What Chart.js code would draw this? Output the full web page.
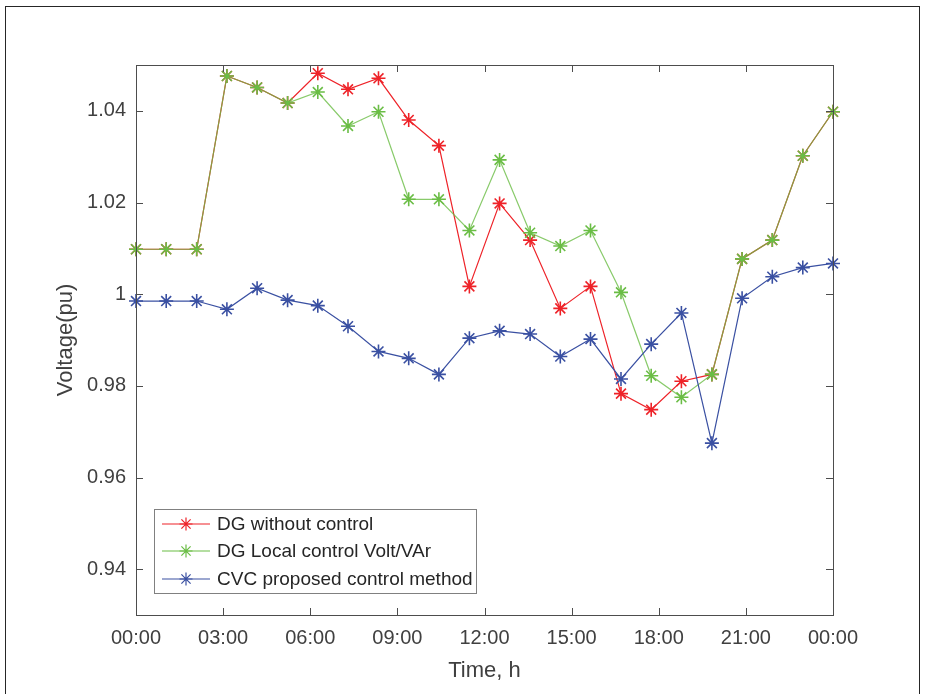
<!DOCTYPE html>
<html>
<head>
<meta charset="utf-8">
<script src="https://cdn.jsdelivr.net/npm/chart.js@4/dist/chart.umd.min.js"></script>
<style>
    body { margin: 0; background: #fff; }
    .frame { position: absolute; left: 5px; top: 6px; width: 913px; height: 700px; border: 1px solid #262626; border-bottom: none; }
    canvas { position: absolute; left: 0; top: 0; }
</style>
</head>
<body>
<div class="frame"></div>
<canvas id="myChart" width="925" height="694"></canvas>
<script>
"use strict";
// time of each sample (h)
let hours = [0, 1.04, 2.09, 3.13, 4.17, 5.22, 6.26, 7.30, 8.35, 9.39, 10.43, 11.48,
    12.52, 13.57, 14.61, 15.65, 16.70, 17.74, 18.78, 19.83, 20.87, 21.91, 22.96, 24];

let noControl = [1.0098, 1.0098, 1.0098, 1.0476, 1.0451, 1.0417, 1.0482, 1.0447, 1.0471, 1.0380, 1.0324, 1.0017,
    1.0198, 1.0118, 0.9969, 1.0017, 0.9783, 0.9748, 0.9810, 0.9825, 1.0077, 1.0118, 1.0302, 1.0398];
let localControl = [1.0098, 1.0098, 1.0098, 1.0476, 1.0451, 1.0417, 1.0441, 1.0367, 1.0398, 1.0207, 1.0207, 1.0139,
    1.0293, 1.0134, 1.0105, 1.0139, 1.0004, 0.9822, 0.9775, 0.9825, 1.0077, 1.0118, 1.0302, 1.0398];
let cvcControl = [0.9985, 0.9985, 0.9985, 0.9967, 1.0013, 0.9987, 0.9975, 0.9930, 0.9875, 0.9860, 0.9825, 0.9904,
    0.9920, 0.9913, 0.9864, 0.9902, 0.9815, 0.9891, 0.9959, 0.9675, 0.9991, 1.0038, 1.0058, 1.0067];

let xTicks = [0, 3, 6, 9, 12, 15, 18, 21, 24];
let xLabels = ["00:00", "03:00", "06:00", "09:00", "12:00", "15:00", "18:00", "21:00", "00:00"];
let yTicks = [0.94, 0.96, 0.98, 1, 1.02, 1.04];
let yLabels = ["0.94", "0.96", "0.98", "1", "1.02", "1.04"];

let names = ["DG without control", "DG Local control Volt/VAr", "CVC proposed control method"];
let colors = ["#ee2228", "#6abd45", "#3a50a2"];
let lineColors = ["#ee2228", "rgba(106,189,69,0.8)", "#3a50a2"];

const FONT = "'Liberation Sans', Arial, Helvetica, sans-serif";

function pts(vals) {
    return vals.map((v, i) => ({ x: hours[i], y: v }));
}

// box + inward ticks like matlab, legend drawn here too
const boxPlugin = {
    id: "box",
    afterDraw(chart) {
        const ctx = chart.ctx;
        const a = chart.chartArea;
        const sx = chart.scales.x, sy = chart.scales.y;
        ctx.save();
        ctx.strokeStyle = "#4d4d4d";
        ctx.lineWidth = 1;
        ctx.strokeRect(a.left + 0.5, a.top + 0.5, a.right - a.left, a.bottom - a.top);
        ctx.beginPath();
        xTicks.forEach(t => {
            let px = Math.round(sx.getPixelForValue(t)) + 0.5;
            ctx.moveTo(px, a.bottom); ctx.lineTo(px, a.bottom - 7);
            ctx.moveTo(px, a.top); ctx.lineTo(px, a.top + 7);
        });
        yTicks.forEach(t => {
            let py = Math.round(sy.getPixelForValue(t)) + 0.5;
            ctx.moveTo(a.left, py); ctx.lineTo(a.left + 7, py);
            ctx.moveTo(a.right, py); ctx.lineTo(a.right - 7, py);
        });
        ctx.stroke();

        // legend
        let lx = 154.5, ly = 509.5, lw = 322, lh = 84;
        ctx.fillStyle = "#fff";
        ctx.fillRect(lx, ly, lw, lh);
        ctx.strokeStyle = "#808080";
        ctx.strokeRect(lx, ly, lw, lh);
        let rows = [524, 551, 579];
        names.forEach((n, i) => {
            ctx.strokeStyle = colors[i];
            ctx.lineWidth = 1.2;
            ctx.beginPath();
            ctx.moveTo(162, rows[i]); ctx.lineTo(210, rows[i]);
            ctx.stroke();
            ctx.strokeStyle = colors[i];
            Chart.helpers.drawPoint(ctx, { pointStyle: "star", radius: 6.5, borderWidth: 1.5 }, 186, rows[i]);
            ctx.fillStyle = "#262626";
            ctx.font = "19px " + FONT;
            ctx.textBaseline = "middle";
            ctx.fillText(n, 217, rows[i] + 1);
        });
        ctx.restore();
    }
};

const ctx = document.getElementById("myChart");
let grafik = new Chart(ctx, {
    type: "line",
    data: {
        datasets: [0, 1, 2].map(i => ({
            label: names[i],
            data: pts([noControl, localControl, cvcControl][i]),
            borderColor: lineColors[i],
            backgroundColor: colors[i],
            pointBorderColor: colors[i],
            borderWidth: 1.2,
            pointStyle: "star",
            pointRadius: 7,
            pointBorderWidth: 1.6,
            fill: false,
            tension: 0,
            clip: false,
            order: 3 - i
        }))
    },
    options: {
        responsive: false,
        animation: false,
        layout: { padding: { top: 65, right: 92, left: 0, bottom: 0 } },
        scales: {
            x: {
                type: "linear",
                min: 0,
                max: 24,
                afterFit(scale) { scale.height = 79; },
                afterBuildTicks(scale) { scale.ticks = xTicks.map(v => ({ value: v })); },
                ticks: {
                    autoSkip: false,
                    maxRotation: 0,
                    padding: 11,
                    color: "#404040",
                    font: { family: FONT, size: 20 },
                    callback: (v, i) => xLabels[i]
                },
                grid: { drawOnChartArea: false, drawTicks: false },
                border: { color: "#4d4d4d" },
                title: {
                    display: true,
                    text: "Time, h",
                    color: "#404040",
                    font: { family: FONT, size: 22 },
                    padding: { top: 0, bottom: 10 }
                }
            },
            y: {
                min: 0.93,
                max: 1.05,
                afterFit(scale) { scale.width = 136; },
                afterBuildTicks(scale) { scale.ticks = yTicks.map(v => ({ value: v })); },
                ticks: {
                    padding: 10,
                    color: "#404040",
                    font: { family: FONT, size: 20 },
                    callback: (v, i) => yLabels[i]
                },
                grid: { drawOnChartArea: false, drawTicks: false },
                border: { color: "#4d4d4d" },
                title: {
                    display: true,
                    text: "Voltage(pu)",
                    color: "#404040",
                    font: { family: FONT, size: 22 },
                    padding: { top: 53, bottom: 0 }
                }
            }
        },
        plugins: {
            legend: { display: false },
            tooltip: { enabled: false }
        }
    },
    plugins: [boxPlugin]
});
</script>
</body>
</html>
